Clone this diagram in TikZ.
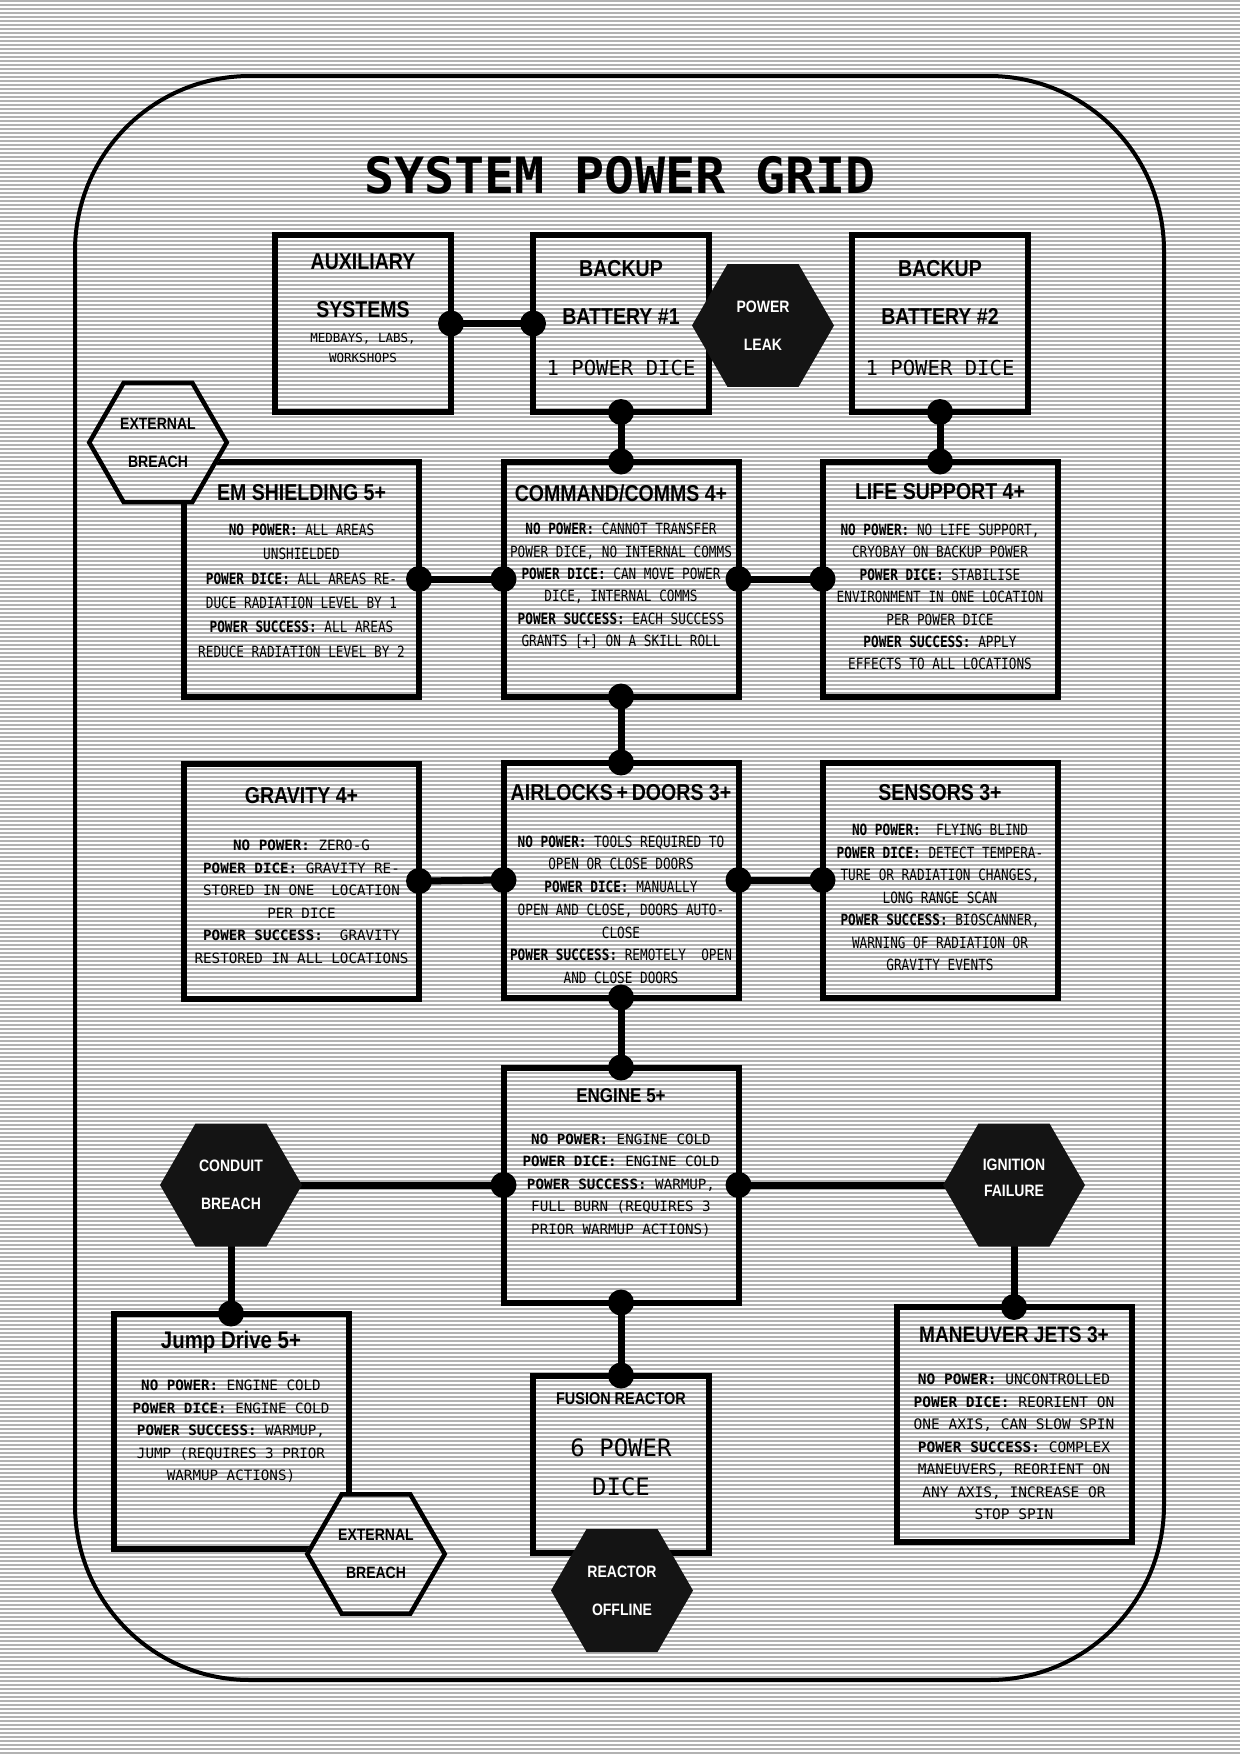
\documentclass[tikz,border=0pt]{standalone}
\usepackage{fontspec}
\usetikzlibrary{shapes.geometric}

\newfontfamily\gridfont{DejaVu Sans Mono}
\newfontfamily\bodyfont[FakeStretch=0.82]{DejaVu Sans Mono}
\newfontfamily\headfont[FakeStretch=0.85]{Liberation Sans}
\definecolor{scanline}{RGB}{178,178,178}
\definecolor{hexblack}{RGB}{20,20,20}

\begin{document}
\begin{tikzpicture}[
				x=1pt, y=-1pt,
				scan/.style={draw=scanline, line width=2pt},
				frame/.style={draw, line width=4pt, rounded corners=175pt},
				sys box/.style={draw, line width=6pt, minimum width=235pt, minimum height=235pt, inner sep=0pt, outer sep=0pt},
				small box/.style={sys box, minimum width=176pt, minimum height=177pt},
				box title/.style={font={\headfont\bfseries\fontsize{#1}{48}\selectfont}, inner sep=0pt, align=center},
				box title/.default=23,
				box text/.style={font={\bodyfont\fontsize{15.5}{#1}\selectfont}, inner sep=0pt, align=center},
				box text/.default=22.4,
				wide text/.style={font={\gridfont\fontsize{14.2}{22.5}\selectfont}, inner sep=0pt, align=center},
				fault/.style={regular polygon, regular polygon sides=6, minimum size=142pt, inner sep=0pt, outer sep=0pt, align=center, font={\headfont\bfseries\fontsize{16.5}{38}\selectfont}},
				dark fault/.style={fault, fill=hexblack, text=white},
				open fault/.style={fault, draw, line width=4.5pt, minimum size=137.5pt},
				wire/.style={line width=7pt},
				joint/.style={fill}]
				
				% Scanline background
				\useasboundingbox (0,0) rectangle (1240,1754);
				\fill[white] (0,0) rectangle (1240,1754);
				\foreach \k in {0,...,438}
					\draw[scan] (0,4*\k+1) -- (1240,4*\k+1);
				
				% Frame and title
				\draw[frame] (75,76) rectangle (1164,1680);
				\node[font={\gridfont\bfseries\fontsize{50}{60}\selectfont}, inner sep=0pt] (title) at (620,175) {SYSTEM POWER GRID};
				
				% Boxes
				\node[small box] (aux) at (363,323.5) {};
				\node[small box] (bat1) at (621,323.5) {};
				\node[small box] (bat2) at (940,323.5) {};
				\node[sys box] (em) at (301.5,579) {};
				\node[sys box] (comms) at (621,579) {};
				\node[sys box] (life) at (940,579) {};
				\node[sys box] (grav) at (301.5,881) {};
				\node[sys box] (locks) at (621,880) {};
				\node[sys box] (sens) at (940,880) {};
				\node[sys box] (engine) at (621,1185) {};
				\node[sys box] (jump) at (231,1431) {};
				\node[small box] (fusion) at (621,1464) {};
				\node[sys box] (jets) at (1014,1424.5) {};
				
				% Top row texts
				\node[box title] (aux title) at (363,285.5) {AUXILIARY\\SYSTEMS};
				\node[font={\gridfont\fontsize{12.5}{20}\selectfont}, align=center, inner sep=0pt] (aux text) at (363,348) {MEDBAYS, LABS,\\WORKSHOPS};
				\node[box title] (bat1 title) at (621,292) {BACKUP\\BATTERY \#1};
				\node[font={\gridfont\fontsize{20.6}{24}\selectfont}, inner sep=0pt] (bat1 dice) at (621,368) {1 POWER DICE};
				\node[box title] (bat2 title) at (940,292) {BACKUP\\BATTERY \#2};
				\node[font={\gridfont\fontsize{20.6}{24}\selectfont}, inner sep=0pt] (bat2 dice) at (940,368) {1 POWER DICE};
				
				% Second row texts
				\node[box title] (em title) at (301.5,493) {EM SHIELDING 5+};
				\node[box text=24.4] (em text) at (301.5,590.7) {\textbf{NO POWER:} ALL AREAS\\UNSHIELDED\\\textbf{POWER DICE:} ALL AREAS RE-\\DUCE RADIATION LEVEL BY 1\\\textbf{POWER SUCCESS:} ALL AREAS\\REDUCE RADIATION LEVEL BY 2};
				\node[box title] (comms title) at (621,493) {COMMAND/COMMS 4+};
				\node[box text] (comms text) at (621,586) {\textbf{NO POWER:} CANNOT TRANSFER\\POWER DICE, NO INTERNAL COMMS\\\textbf{POWER DICE:} CAN MOVE POWER\\DICE, INTERNAL COMMS\\\textbf{POWER SUCCESS:} EACH SUCCESS\\GRANTS [+] ON A SKILL ROLL};
				\node[box title] (life title) at (940,492) {LIFE SUPPORT 4+};
				\node[box text] (life text) at (940,597) {\textbf{NO POWER:} NO LIFE SUPPORT,\\CRYOBAY ON BACKUP POWER\\\textbf{POWER DICE:} STABILISE\\ENVIRONMENT IN ONE LOCATION\\PER POWER DICE\\\textbf{POWER SUCCESS:} APPLY\\EFFECTS TO ALL LOCATIONS};
				
				% Third row texts
				\node[box title] (grav title) at (301.5,796) {GRAVITY 4+};
				\node[wide text] (grav text) at (301.5,901.8) {\textbf{NO POWER:} ZERO-G\\\textbf{POWER DICE:} GRAVITY RE-\\STORED IN ONE~ LOCATION\\PER DICE\\\textbf{POWER SUCCESS:}~ GRAVITY\\RESTORED IN ALL LOCATIONS};
				\node[box title] (locks title) at (621,793) {AIRLOCKS\,+\,DOORS 3+};
				\node[box text=22.7] (locks text) at (621,909.7) {\textbf{NO POWER:} TOOLS REQUIRED TO\\OPEN OR CLOSE DOORS\\\textbf{POWER DICE:} MANUALLY\\OPEN AND CLOSE, DOORS AUTO-\\CLOSE\\\textbf{POWER SUCCESS:} REMOTELY~ OPEN\\AND CLOSE DOORS};
				\node[box title] (sens title) at (940,793) {SENSORS 3+};
				\node[box text=22.5] (sens text) at (940,897.5) {\textbf{NO POWER:}~ FLYING BLIND\\\textbf{POWER DICE:} DETECT TEMPERA-\\TURE OR RADIATION CHANGES,\\LONG RANGE SCAN\\\textbf{POWER SUCCESS:} BIOSCANNER,\\WARNING OF RADIATION OR\\GRAVITY EVENTS};
				
				% Lower texts
				\node[box title=20] (engine title) at (621,1096) {ENGINE 5+};
				\node[wide text] (engine text) at (621,1185) {\textbf{NO POWER:} ENGINE COLD\\\textbf{POWER DICE:} ENGINE COLD\\\textbf{POWER SUCCESS:} WARMUP,\\FULL BURN (REQUIRES 3\\PRIOR WARMUP ACTIONS)};
				\node[box title=24] (jump title) at (231,1342) {Jump Drive 5+};
				\node[wide text] (jump text) at (231,1431.3) {\textbf{NO POWER:} ENGINE COLD\\\textbf{POWER DICE:} ENGINE COLD\\\textbf{POWER SUCCESS:} WARMUP,\\JUMP (REQUIRES 3 PRIOR\\WARMUP ACTIONS)};
				\node[box title=17] (fusion title) at (621,1399) {FUSION REACTOR};
				\node[font={\gridfont\fontsize{24}{39}\selectfont}, align=center, inner sep=0pt] (fusion dice) at (621,1467.5) {6 POWER\\DICE};
				\node[box title=22.5] (jets title) at (1014,1335) {MANEUVER JETS 3+};
				\node[wide text, font={\gridfont\fontsize{14.5}{22.5}\selectfont}] (jets text) at (1014,1446.8) {\textbf{NO POWER:} UNCONTROLLED\\\textbf{POWER DICE:} REORIENT ON\\ONE AXIS, CAN SLOW SPIN\\\textbf{POWER SUCCESS:} COMPLEX\\MANEUVERS, REORIENT ON\\ANY AXIS, INCREASE OR\\STOP SPIN};
				
				% Power lines
				\draw[wire] (aux.east) -- (bat1.west);
				\draw[wire] (bat1.south) -- (comms.north);
				\draw[wire] (bat2.south) -- (life.north);
				\draw[wire] (em.east) -- (comms.west);
				\draw[wire] (comms.east) -- (life.west);
				\draw[wire] (comms.south) -- (locks.north);
				\draw[wire] (grav.east) -- (locks.west);
				\draw[wire] (locks.east) -- (sens.west);
				\draw[wire] (locks.south) -- (engine.north);
				\draw[wire] (engine.south) -- (fusion.north);
				\coordinate (conduit c) at (231,1185);
				\coordinate (ignition c) at (1014,1185);
				\draw[wire] (conduit c) -- (engine.west);
				\draw[wire] (engine.east) -- (ignition c);
				\draw[wire] (conduit c) -- (jump.north);
				\draw[wire] (ignition c) -- (jets.north);
				\foreach \p in {aux.east, bat1.west, bat1.south, comms.north, bat2.south, life.north,
					em.east, comms.west, comms.east, life.west, comms.south, locks.north,
					grav.east, locks.west, locks.east, sens.west, locks.south, engine.north,
					engine.south, fusion.north, engine.west, engine.east, jump.north, jets.north}
					\fill[joint] (\p) circle[radius=13pt];
				
				% Faults
				\node[dark fault] (leak) at (763,325.5) {POWER\\LEAK};
				\node[dark fault] (conduit) at (conduit c) {CONDUIT\\BREACH};
				\node[dark fault] (ignition) at (ignition c) {};
				\node[font={\headfont\bfseries\fontsize{16.5}{26}\selectfont}, text=white, align=center, inner sep=0pt] (ignition text) at ([yshift=7pt]ignition.center) {IGNITION\\FAILURE};
				\node[dark fault] (offline) at (622,1590.5) {REACTOR\\OFFLINE};
				
				% Open faults hide what lies below them
				\node[fault, fill=white] (mask a) at (158,442.5) {};
				\begin{scope}
					\clip (mask a.corner 1) -- (mask a.corner 2) -- (mask a.corner 3) -- (mask a.corner 4) -- (mask a.corner 5) -- (mask a.corner 6) -- cycle;
					\foreach \k in {90,...,130}
						\draw[scan] (80,4*\k+1) -- (240,4*\k+1);
				\end{scope}
				\node[open fault] (breach a) at (158,442.5) {EXTERNAL\\BREACH};
				\node[fault, fill=white] (mask b) at (376,1554) {};
				\begin{scope}
					\clip (mask b.corner 1) -- (mask b.corner 2) -- (mask b.corner 3) -- (mask b.corner 4) -- (mask b.corner 5) -- (mask b.corner 6) -- cycle;
					\foreach \k in {368,...,408}
						\draw[scan] (300,4*\k+1) -- (455,4*\k+1);
				\end{scope}
				\node[open fault] (breach b) at (376,1554) {EXTERNAL\\BREACH};
			\end{tikzpicture}
\end{document}
